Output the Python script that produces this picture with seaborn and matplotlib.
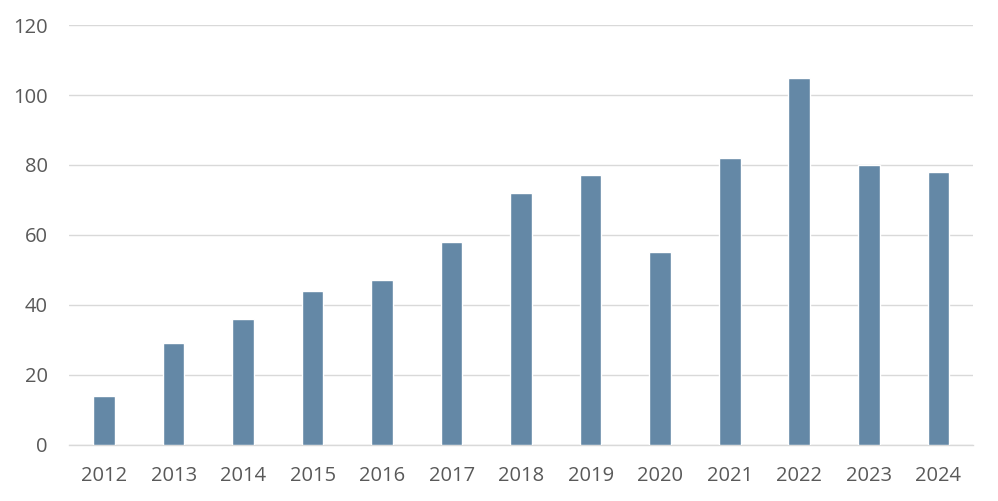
import matplotlib
matplotlib.use("Agg")
import matplotlib.pyplot as plt
import seaborn as sns
import pandas as pd

# ---------- Data ----------
years = ["2012", "2013", "2014", "2015", "2016", "2017", "2018",
         "2019", "2020", "2021", "2022", "2023", "2024"]
values = [14, 29, 36, 44, 47, 58, 72, 77, 55, 82, 105, 80, 78]
y_ticks = [0, 20, 40, 60, 80, 100, 120]

df = pd.DataFrame({"year": years, "value": values})

sns.set_theme(style="white")
plt.rcParams["font.family"] = ["Open Sans", "DejaVu Sans"]

fig, ax = plt.subplots(figsize=(9.98, 5.01), dpi=100)
fig.subplots_adjust(left=0.0695, right=0.975, top=0.95, bottom=0.112)

sns.barplot(data=df, x="year", y="value", color="#6488a6", width=0.31,
            saturation=1, ax=ax, zorder=3)

ax.set_ylim(0, 120)
ax.set_yticks(y_ticks)
ax.set_xlim(-0.5, len(years) - 0.5)
ax.yaxis.grid(True, color="#d9d9d9", linewidth=1.0, zorder=0)
ax.set_axisbelow(True)
for s in ["top", "right", "left"]:
    ax.spines[s].set_visible(False)
ax.spines["bottom"].set_color("#d9d9d9")
ax.spines["bottom"].set_linewidth(1.0)

ax.set_xlabel("")
ax.set_ylabel("")
ax.tick_params(axis="both", length=0, labelsize=14.5, labelcolor="#595959")
ax.tick_params(axis="y", pad=15.5)
ax.tick_params(axis="x", pad=15)

fig.savefig("out.png", dpi=100)
